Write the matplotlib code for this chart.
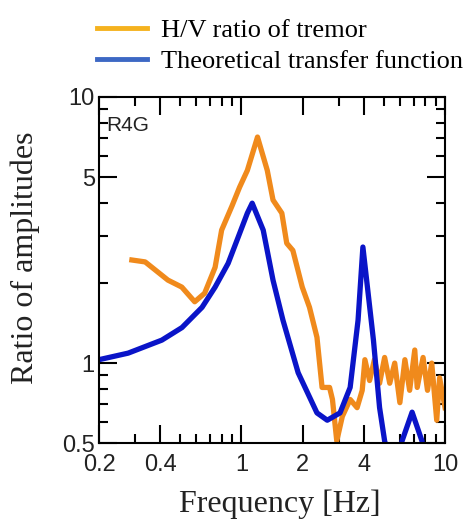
import numpy as np
import matplotlib
matplotlib.use("Agg")
import matplotlib.pyplot as plt
from matplotlib.lines import Line2D
from matplotlib.ticker import FixedLocator, NullFormatter

# H/V ratio of tremor (orange)
hv_freq = [0.29, 0.337, 0.436, 0.51, 0.59, 0.66, 0.743, 0.80, 0.90, 0.98, 1.07, 1.20,
           1.34, 1.43, 1.58, 1.67, 1.79, 1.99, 2.16, 2.35, 2.49, 2.71, 2.80, 2.94,
           3.13, 3.42, 3.70, 3.92, 4.04, 4.26, 4.50, 4.77, 5.05, 5.35, 5.66, 6.00,
           6.35, 6.70, 7.10, 7.30, 7.80, 8.20, 8.60, 9.10, 9.40, 10.0]
hv_ratio = [2.44, 2.40, 2.05, 1.93, 1.70, 1.83, 2.29, 3.16, 3.90, 4.58, 5.30, 7.07,
            5.30, 4.10, 3.66, 2.82, 2.65, 1.93, 1.62, 1.25, 0.81, 0.81, 0.73, 0.51,
            0.63, 0.73, 0.68, 0.79, 1.03, 0.86, 1.03, 0.84, 1.05, 0.84, 1.00, 0.71,
            1.03, 0.79, 1.12, 0.81, 1.05, 0.79, 1.00, 0.61, 0.88, 0.68]

# theoretical transfer function (blue)
tf_freq = [0.20, 0.278, 0.407, 0.511, 0.641, 0.743, 0.861, 0.964, 1.07, 1.13, 1.28,
           1.43, 1.60, 1.90, 2.35, 2.64, 3.05, 3.42, 3.74, 3.95, 4.45, 4.77, 5.05,
           5.60, 6.15, 6.89, 7.70, 8.2]
tf_ratio = [1.03, 1.09, 1.22, 1.36, 1.62, 1.93, 2.37, 2.97, 3.66, 3.99, 3.16,
            2.05, 1.45, 0.92, 0.65, 0.61, 0.65, 0.81, 1.45, 2.73, 1.22, 0.68, 0.51,
            0.38, 0.51, 0.654, 0.51, 0.38]

x_major = [0.2, 0.4, 1, 2, 4, 10]
x_minor = [0.3, 0.5, 0.6, 0.7, 0.8, 0.9, 3, 5, 6, 7, 8, 9]
y_major = [0.5, 1, 5, 10]
y_minor = [0.6, 0.7, 0.8, 0.9, 2, 3, 4, 6, 7, 8, 9]

fig = plt.figure(figsize=(4.76, 5.27), dpi=100)
ax = fig.add_axes([0.208, 0.159, 0.727, 0.657])

ax.plot(hv_freq, hv_ratio, color='#f08a1c', lw=3.8, solid_joinstyle='round')
ax.plot(tf_freq, tf_ratio, color='#0a14c8', lw=3.8, solid_joinstyle='round')

ax.set_xscale('log')
ax.set_yscale('log')
ax.set_xlim(0.2, 10)
ax.set_ylim(0.5, 10)

ax.xaxis.set_major_locator(FixedLocator(x_major))
ax.xaxis.set_minor_locator(FixedLocator(x_minor))
ax.yaxis.set_major_locator(FixedLocator(y_major))
ax.yaxis.set_minor_locator(FixedLocator(y_minor))
ax.set_xticklabels([str(v) for v in x_major])
ax.set_yticklabels([str(v) for v in y_major])
ax.xaxis.set_minor_formatter(NullFormatter())
ax.yaxis.set_minor_formatter(NullFormatter())

ax.tick_params(which='both', direction='in', top=True, right=True, width=1.5,
               labelsize=17, labelcolor='#222222',
               labelfontfamily='Liberation Sans')
ax.tick_params(axis='x', pad=8)
ax.tick_params(axis='y', pad=3)
ax.tick_params(which='major', length=13)
ax.tick_params(which='minor', length=6.5)
for s in ax.spines.values():
    s.set_linewidth(1.5)

ax.text(0.02, 0.945, 'R4G', transform=ax.transAxes, fontsize=15,
        family='Liberation Sans', color='#222222', va='top')

ax.set_xlabel('Frequency [Hz]', family='Liberation Serif', fontsize=23,
              color='#222222')
ax.set_ylabel('Ratio of amplitudes', family='Liberation Serif', fontsize=23,
              color='#222222')
ax.xaxis.set_label_coords(0.523, -0.135)
ax.yaxis.set_label_coords(-0.17, 0.535)

handles = [Line2D([], [], color='#f5b21e', lw=3.5),
           Line2D([], [], color='#3d68c4', lw=3.5)]
fig.legend(handles, ['H/V ratio of tremor', 'Theoretical transfer function'],
           loc='upper left', bbox_to_anchor=(0.17, 0.995), frameon=False,
           prop={'family': 'Liberation Serif', 'size': 19}, handlelength=1.9,
           handletextpad=0.55, labelspacing=0.3, borderaxespad=0.2)

fig.savefig('out.png', dpi=100)
